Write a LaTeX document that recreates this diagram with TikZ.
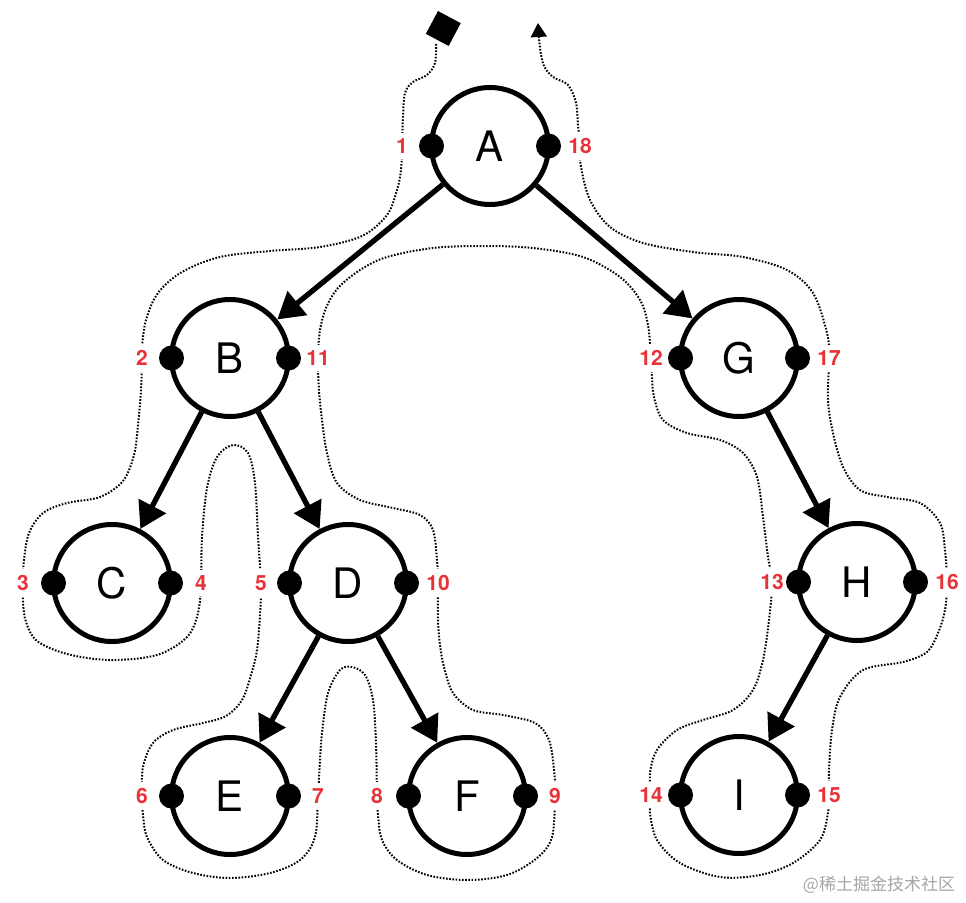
\documentclass[tikz,border=0pt]{standalone}
\usepackage{fontspec}
\setmainfont{TeX Gyre Heros}
\newfontfamily\cjk{Noto Sans CJK SC}
\usetikzlibrary{arrows.meta}
\definecolor{lblred}{RGB}{232,50,56}
\begin{document}
\begin{tikzpicture}[x=1pt,y=-1pt,
  tnode/.style={circle,draw=black,line width=5pt,minimum size=117pt,inner sep=0pt,fill=white,font=\fontsize{42}{42}\selectfont},
  edge/.style={line width=5.3pt,-{Triangle[length=26pt,width=30pt]}},
  lbl/.style={text=lblred,font=\bfseries\fontsize{21}{21}\selectfont,fill=white,inner xsep=1.5pt,inner ysep=6pt},
  contour/.style={line width=2pt,dash pattern=on 1.6pt off 1.6pt,black},
  portdot/.style={fill=black},
  ]
\fill[white] (0,0) rectangle (966,902);
\useasboundingbox (0,0) rectangle (966,902);

% Euler-tour contour
\draw[contour,-{Triangle[length=14pt,width=16pt]}] plot[smooth,tension=0.55] coordinates {
(436,44) (435,63) (427,75) (413,82) (405,93) (403,117) (402,146) (401,170) (397,190) (387,215) (362,236) (320,247) (270,251) (220,257) (182,272) (158,293) (146,320) (142,347) (142,358) (141,390) (138,425) (134,455) (123,481) (100,497) (67,503) (43,513) (29,533) (24,560) (23,583) (23,602) (26,622) (37,641) (67,654) (110,660) (157,655) (187,637) (198,613) (201,583) (202,537) (207,488) (217,457) (233,445) (248,453) (255,483) (258,537) (261,583) (260,615) (257,650) (251,675) (242,700) (226,716) (203,723) (173,730) (153,743) (143,767) (142,796) (143,815) (147,837) (163,860) (193,873) (230,878) (270,873) (300,860) (315,837) (318,796) (320,760) (322,733) (328,693) (340,670) (352,667) (365,675) (373,700) (376,743) (377,796) (378,815) (382,840) (397,860) (427,875) (467,880) (507,875) (537,858) (552,837) (555,796) (554,770) (549,740) (535,723) (503,715) (473,710) (453,693) (444,667) (440,645) (438,620) (438,583) (437,560) (433,530) (420,515) (393,508) (360,500) (337,483) (327,453) (322,420) (319,390) (318,358) (320,330) (326,308) (338,288) (360,270) (387,257) (433,248) (483,246) (533,248) (583,257) (620,277) (640,300) (648,325) (651,358) (652,377) (654,397) (663,420) (687,433) (720,440) (743,453) (757,477) (763,517) (768,557) (772,582) (769,620) (763,660) (753,690) (733,710) (703,720) (677,730) (657,750) (650,773) (651,795) (650,813) (657,840) (680,863) (720,877) (760,875) (793,863) (820,840) (828,813) (829,795) (829,770) (832,730) (840,697) (863,670) (903,662) (927,652) (938,633) (945,610) (947,582) (945,550) (940,523) (920,503) (887,497) (860,490) (843,467) (833,433) (828,400) (829,358) (827,333) (813,293) (787,270) (743,257) (693,252) (643,243) (610,227) (590,200) (581,167) (580,146) (578,125) (576,103) (568,85) (553,77) (544,66) (540,48) (538,23)
};

% start marker
\node[fill=black,rotate=-28,minimum size=25.8pt,inner sep=0pt] (start) at (443.3,28.5) {};

% tree nodes
\node[tnode] (A) at (490,146) {A};
\node[tnode] (B) at (230,358) {B};
\node[tnode] (G) at (739,358) {G};
\node[tnode] (C) at (112,583) {C};
\node[tnode] (D) at (348,583) {D};
\node[tnode] (H) at (857,582) {H};
\node[tnode] (E) at (230,796) {E};
\node[tnode] (F) at (467,796) {F};
\node[tnode] (I) at (739,795) {I};

% edges
\draw[edge] (A) -- (B);
\draw[edge] (A) -- (G);
\draw[edge] (B) -- (C);
\draw[edge] (B) -- (D);
\draw[edge] (D) -- (E);
\draw[edge] (D) -- (F);
\draw[edge] (G) -- (H);
\draw[edge] (H) -- (I);

% port dots
\foreach \n in {A,B,C,D,E,F,G,H,I}{
  \fill[portdot] (\n.center) ++(-58.5,0) circle (12.5);
  \fill[portdot] (\n.center) ++(58.5,0) circle (12.5);
}

% visit-order labels
\node[lbl] (l1) at (402,146) {1};
\node[lbl] (l18) at (580,146) {18};
\node[lbl] (l2) at (142,358) {2};
\node[lbl] (l11) at (318,358) {11};
\node[lbl] (l3) at (23,583) {3};
\node[lbl] (l4) at (201,583) {4};
\node[lbl] (l5) at (261,583) {5};
\node[lbl] (l10) at (438,583) {10};
\node[lbl] (l6) at (142,796) {6};
\node[lbl] (l7) at (318,796) {7};
\node[lbl] (l8) at (377,796) {8};
\node[lbl] (l9) at (555,796) {9};
\node[lbl] (l12) at (651,358) {12};
\node[lbl] (l17) at (829,358) {17};
\node[lbl] (l13) at (772,582) {13};
\node[lbl] (l16) at (947,582) {16};
\node[lbl] (l14) at (651,795) {14};
\node[lbl] (l15) at (829,795) {15};

% watermark
\node[text=black!35,font=\cjk\fontsize{17}{17}\selectfont,inner sep=0pt] (wm) at (879,885) {@稀土掘金技术社区};
\end{tikzpicture}
\end{document}
